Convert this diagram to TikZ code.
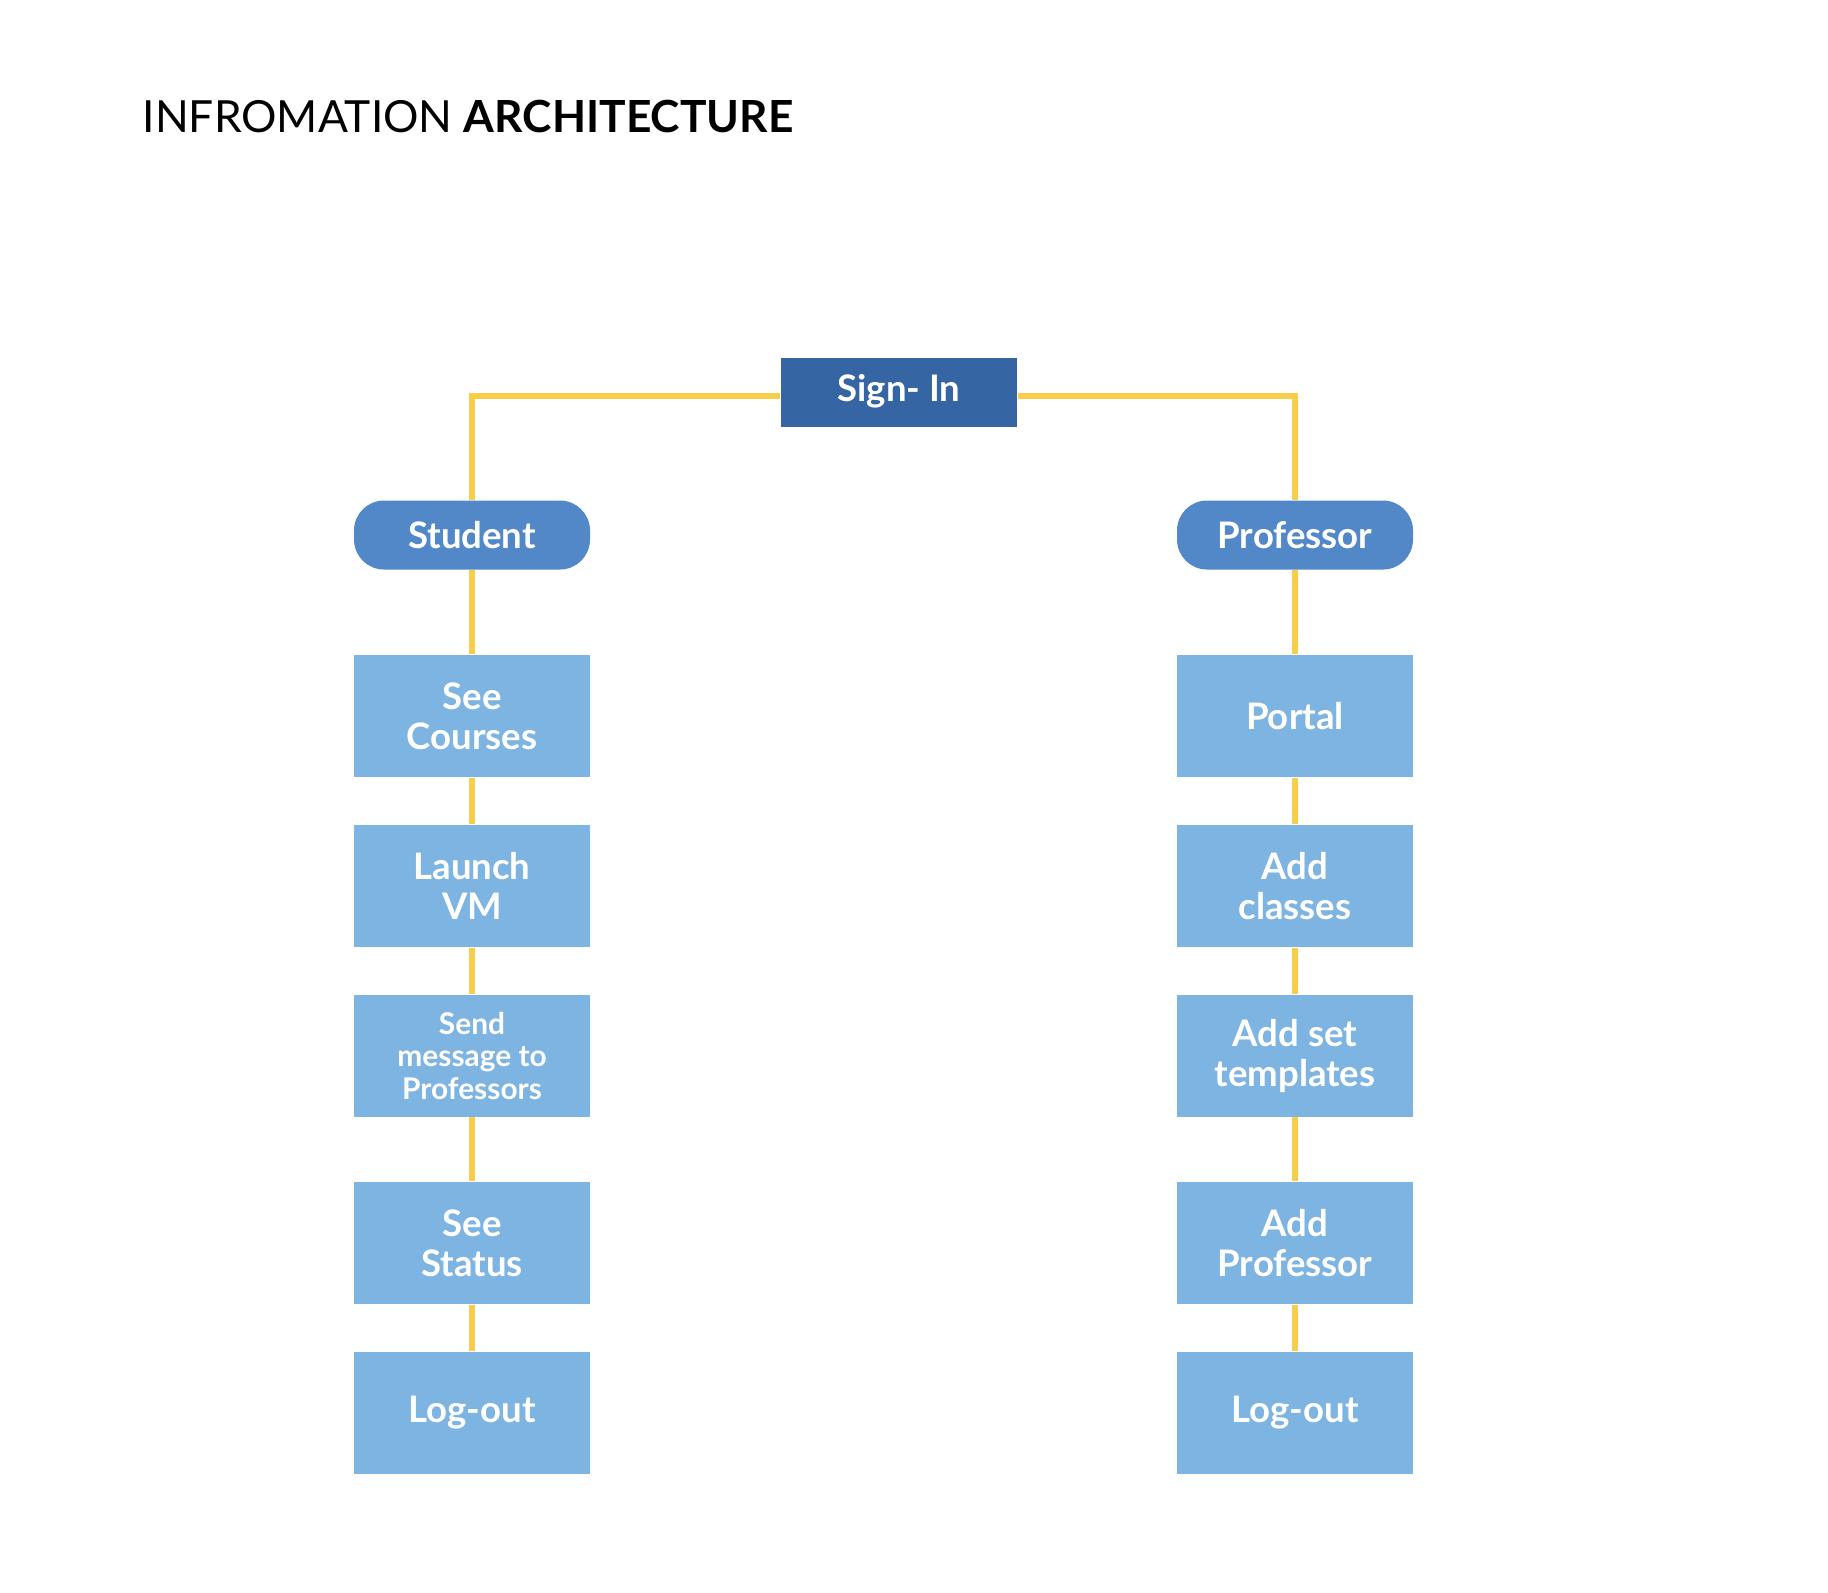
\documentclass[tikz,border=0pt]{standalone}
\usepackage{fontspec}
\setmainfont{Lato}
\usetikzlibrary{positioning}

\definecolor{signblue}{HTML}{3565A3}
\definecolor{roleblue}{HTML}{5288C8}
\definecolor{pageblue}{HTML}{7EB4E2}
\definecolor{linkyellow}{HTML}{F7CE4A}

\begin{document}
\begin{tikzpicture}[node distance=0.465cm,
                    every node/.style={text=white, align=center, inner sep=2pt,
                      font=\bfseries\fontsize{10.4}{11.4}\selectfont}]
  \tikzstyle{root}=[fill=signblue, minimum width=2.36cm, minimum height=0.69cm]
  \tikzstyle{role}=[fill=roleblue, rounded corners=0.3cm, minimum width=2.36cm, minimum height=0.69cm]
  \tikzstyle{page}=[fill=pageblue, minimum width=2.36cm, minimum height=1.22cm]
  \tikzstyle{link}=[draw=linkyellow, line width=1.7pt]

  \useasboundingbox (0,0) rectangle (18.28,-15.92);

  \node[anchor=base west, text=black, inner sep=0pt,
        font=\fontsize{12.6}{15}\selectfont] (title) at (1.42,-1.32)
        {INFROMATION \textbf{ARCHITECTURE}};

  \node[root, text depth=0.5ex] (signin) at (8.99,-3.92) {Sign- In};
  \node[role] (student) at (4.72,-5.35) {Student};
  \node[role] (prof)    at (12.95,-5.35) {Professor};

  % student side
  \node[page] (s1) [below=0.84cm of student] {See\\Courses};
  \node[page] (s2) [below=of s1] {Launch\\VM};
  \node[page, font=\bfseries\fontsize{8.5}{9.3}\selectfont] (s3) [below=of s2] {Send\\message to\\Professors};
  \node[page] (s4) [below=0.64cm of s3] {See\\Status};
  \node[page] (s5) [below=of s4] {Log-out};

  % professor side
  \node[page] (p1) [below=0.84cm of prof] {Portal};
  \node[page] (p2) [below=of p1] {Add\\classes};
  \node[page] (p3) [below=of p2] {Add set\\templates};
  \node[page] (p4) [below=0.64cm of p3] {Add\\Professor};
  \node[page] (p5) [below=of p4] {Log-out};

  \path[link] ([yshift=-0.04cm]signin.west) -| (student.north)
              ([yshift=-0.04cm]signin.east) -| (prof.north)
              (student) -- (s1) (s1) -- (s2) (s2) -- (s3) (s3) -- (s4) (s4) -- (s5)
              (prof) -- (p1) (p1) -- (p2) (p2) -- (p3) (p3) -- (p4) (p4) -- (p5);
\end{tikzpicture}
\end{document}
